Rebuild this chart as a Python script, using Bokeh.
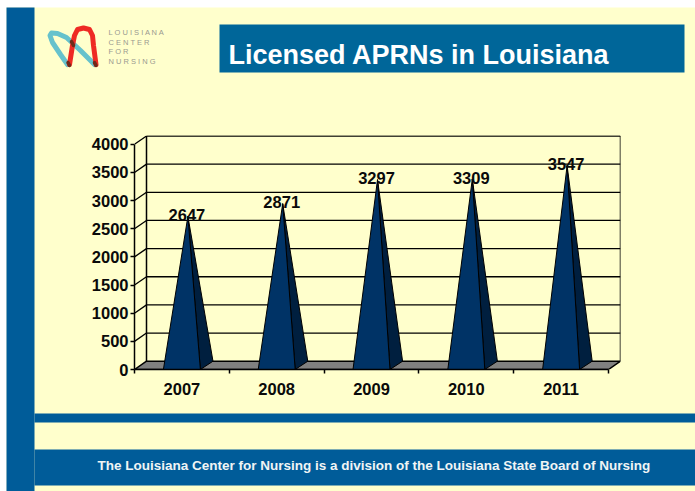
import numpy as np
from bokeh.plotting import figure
from bokeh.layouts import column
from bokeh.embed import file_html
from bokeh.resources import INLINE
from bokeh.models import Range1d, FixedTicker
from bokeh.core.properties import value

years = ["2007", "2008", "2009", "2010", "2011"]
licensed = [2647, 2871, 3297, 3309, 3547]
y_ticks = [0, 500, 1000, 1500, 2000, 2500, 3000, 3500, 4000]
title_text = "Licensed APRNs in Louisiana"
footer_text = "The Louisiana Center for Nursing is a division of the Louisiana State Board of Nursing"
logo_lines = ["L O U I S I A N A", "C E N T E R", "F O R", "N U R S I N G"]

BLUE = "#005C99"
TITLE_BLUE = "#006699"
YELLOW = "#FFFFCC"
FONT = "Liberation Sans"
W, H = 695, 491

DX = 12 / 94.8      # depth of the 3D box, in category units
DY = 8.3 / 0.0563   # depth of the 3D box, in value units
HALF = 0.195        # half width of a pyramid base

# ---- slide background layer, in page pixels
bg = figure(width=W, height=H, output_backend="svg", toolbar_location=None,
            x_range=Range1d(0, W), y_range=Range1d(H, 0), frame_align=False,
            min_border=0, outline_line_color=None, border_fill_color="white",
            background_fill_color="white", margin=(0, 0, 0, 0))
bg.axis.visible = False
bg.grid.visible = False

def box(l, t, r, b, color):
    bg.quad(left=[l], right=[r], top=[t], bottom=[b], fill_color=color, line_color=None)

box(6, 7, W, H, YELLOW)
box(6, 7, 34, H, BLUE)
box(34, 413, W, 422, BLUE)
box(34, 449, W, 485, BLUE)
box(219, 24, 684, 72, TITLE_BLUE)

def stroke(xs, ys, w, color):
    bg.line(xs, ys, line_width=w, line_color=color, line_join="round", line_cap="round")

stroke([94, 80, 66, 57, 51, 49.5, 52, 60, 67], [64, 50, 37, 33, 32.5, 35, 42, 54, 64], 5, "#66C2CC")
stroke([69, 72, 74, 77, 83, 89, 92, 93, 95.5], [64, 45, 35, 29, 27.5, 29, 35, 45, 64], 5, "#EE2A24")
stroke([71, 73], [41, 45], 3.5, "#6E2A1A")
stroke([67.5, 69], [62, 65], 3.5, "#6E2A1A")
stroke([94, 95.5], [62, 65], 3.5, "#6E2A1A")

def text(x, y, s, size, color, bold=True):
    bg.text([x], [y], text=[s], text_font=value(FONT), text_font_size=size, text_color=color,
            text_baseline="middle", text_font_style="bold" if bold else "normal")

text(228, 54, title_text, "27px", "white")
text(97, 465, footer_text, "13.5px", "#F0F5F5")
for i, s in enumerate(logo_lines):
    text(108, 32 + i * 9.6, s, "7.5px", "#9A9A90", bold=False)

# ---- chart layer
p = figure(width=W, height=H, output_backend="svg", toolbar_location=None,
           x_range=Range1d(-0.5, 4.5 + DX), y_range=Range1d(0, 4156), frame_align=False,
           min_border_left=134, min_border_right=75, min_border_top=135, min_border_bottom=122,
           background_fill_alpha=0, border_fill_alpha=0,
           outline_line_color=None, margin=(-H, 0, 0, 0))
p.grid.visible = False

p.patch([-0.5, 4.5, 4.5 + DX, -0.5 + DX], [0, 0, DY, DY], fill_color="#808080", line_color="black", line_width=1.5)
for t in y_ticks[1:]:
    p.line([-0.5 + DX, 4.5 + DX], [t + DY, t + DY], line_color="black", line_width=1.3)
    p.line([-0.5, -0.5 + DX], [t, t + DY], line_color="black", line_width=1.3)
p.line([-0.5 + DX, -0.5 + DX], [DY, 4000 + DY], line_color="black", line_width=1.5)
p.line([4.5 + DX, 4.5 + DX], [DY, 4000 + DY], line_color="black", line_width=1.5)

for i, v in enumerate(licensed):
    ax, ay = i + DX / 2, v + DY / 2
    p.patch([i + HALF, i + HALF + DX * 1.05, ax], [0, DY, ay], fill_color="#001F3F", line_color="black", line_width=1)
    p.patch([i - HALF, i + HALF, ax], [0, 0, ay], fill_color="#003366", line_color="black", line_width=1)
    p.text([ax], [ay], text=[str(v)], text_font=value(FONT), text_font_style="bold", text_font_size="16.5px",
           text_color="#0A0A0A", text_align="center", text_baseline="middle", x_offset=-1, y_offset=-1.5)

ya = p.yaxis[0]
ya.ticker = FixedTicker(ticks=y_ticks)
ya.bounds = (0, 4000)
ya.major_tick_in = 0
ya.major_tick_out = 4
ya.minor_tick_line_color = None
ya.axis_line_width = 1.5
ya.major_tick_line_width = 1.5
ya.major_label_text_font = FONT
ya.major_label_text_font_style = "bold"
ya.major_label_text_font_size = "16.5px"
ya.major_label_text_color = "#0A0A0A"
ya.major_label_standoff = 2

xa = p.xaxis[0]
xa.ticker = FixedTicker(ticks=list(range(len(years))), minor_ticks=[i - 0.5 for i in range(len(years) + 1)])
xa.major_label_overrides = {i: y for i, y in enumerate(years)}
xa.bounds = (-0.5, 4.5)
xa.major_tick_line_color = None
xa.major_tick_in = 0
xa.major_tick_out = 0
xa.minor_tick_in = 0
xa.minor_tick_out = 4
xa.minor_tick_line_width = 1.5
xa.axis_line_width = 1.5
xa.major_label_text_font = FONT
xa.major_label_text_font_style = "bold"
xa.major_label_text_font_size = "16.5px"
xa.major_label_text_color = "#0A0A0A"
xa.major_label_standoff = 9

open("out.html", "w").write(file_html(column(bg, p, spacing=0), INLINE))
